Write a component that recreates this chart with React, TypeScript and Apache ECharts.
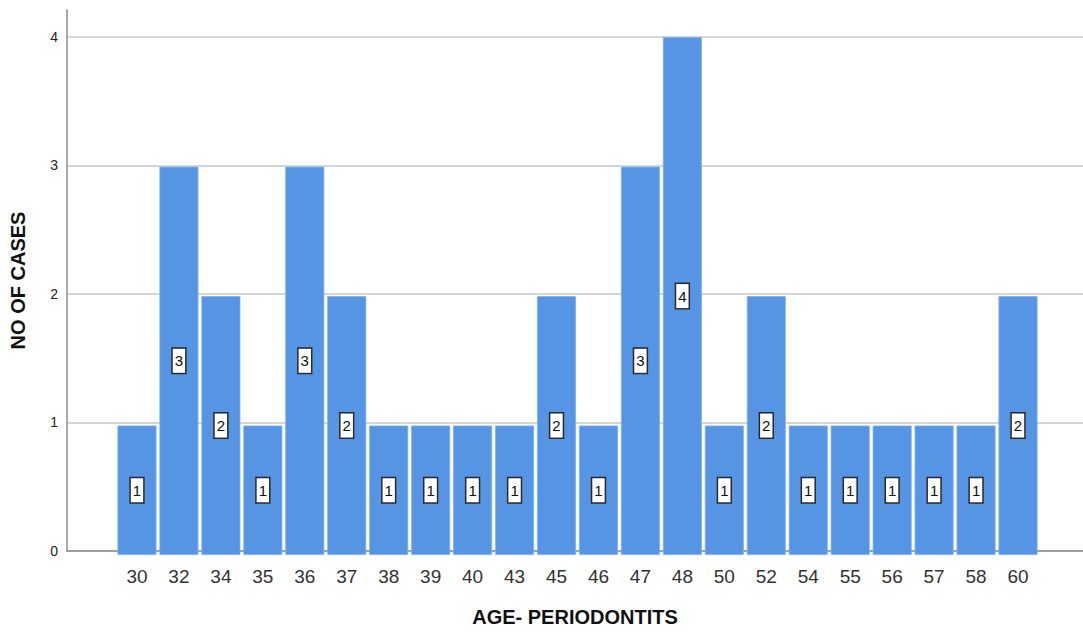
import React, { useEffect, useRef } from "react";
import * as echarts from "echarts";

const categories = ["30","32","34","35","36","37","38","39","40","43","45","46","47","48","50","52","54","55","56","57","58","60"];
const counts = [1,3,2,1,3,2,1,1,1,1,2,1,3,4,1,2,1,1,1,1,1,2];
const yTicks = [0, 1, 2, 3, 4];

const Y_MAX = 4.21;
const BAR_COLOR = "#5595e4";

export default function App() {
  const ref = useRef<HTMLDivElement>(null);
  useEffect(() => {
    document.body.style.margin = "0";
    const chart = echarts.init(ref.current!, undefined, { renderer: "svg" });
    chart.setOption({
      animation: false,
      backgroundColor: "#ffffff",
      textStyle: { fontFamily: "Liberation Sans, Arial, sans-serif" },
      grid: [
        { left: 65, right: 0, top: 10, bottom: 77 },
        { left: 116, right: 44, top: 10, bottom: 77 },
      ],
      xAxis: [
        {
          type: "value",
          gridIndex: 0,
          min: 0,
          max: 1,
          axisLine: { show: true, onZero: false, lineStyle: { color: "#8c8c8c", width: 1.5 } },
          axisTick: { show: false },
          axisLabel: { show: false },
          splitLine: { show: false },
          name: "AGE- PERIODONTITS",
          nameLocation: "middle",
          nameGap: 56,
          nameTextStyle: { fontSize: 20, fontWeight: "bold", color: "#111" },
        },
        {
          type: "category",
          gridIndex: 1,
          data: categories,
          axisLine: { show: false },
          axisTick: { show: false },
          axisLabel: { fontSize: 19, color: "#333", margin: 12 },
          splitLine: { show: false },
        },
      ],
      yAxis: [
        {
          type: "value",
          gridIndex: 0,
          min: 0,
          max: Y_MAX,
          interval: 1,
          axisLine: { show: true, lineStyle: { color: "#8c8c8c", width: 1.5 } },
          axisTick: { show: false },
          axisLabel: {
            fontSize: 14,
            color: "#222",
            margin: 9,
            customValues: yTicks,
          },
          splitLine: { show: true, showMaxLine: false, lineStyle: { color: "#c8c8c8", width: 1.5 } },
          name: "NO OF CASES",
          nameLocation: "middle",
          nameGap: 39,
          nameTextStyle: { fontSize: 20, fontWeight: "bold", color: "#111" },
        },
        {
          type: "value",
          gridIndex: 1,
          min: 0,
          max: Y_MAX,
          show: false,
          splitLine: { show: false },
        },
      ],
      series: [
        {
          type: "bar",
          xAxisIndex: 1,
          yAxisIndex: 1,
          data: counts,
          barCategoryGap: "7%",
          itemStyle: { color: BAR_COLOR, borderColor: "#7fb1ee", borderWidth: 0.8 },
          label: {
            show: true,
            position: "inside",
            fontSize: 15,
            color: "#111",
            backgroundColor: "#ffffff",
            borderColor: "#2a2a2a",
            borderWidth: 1.5,
            padding: [5, 2, 4, 2],
          },
        },
      ],
    });
    return () => chart.dispose();
  }, []);
  return <div ref={ref} style={{ width: 1083, height: 632 }} />;
}
